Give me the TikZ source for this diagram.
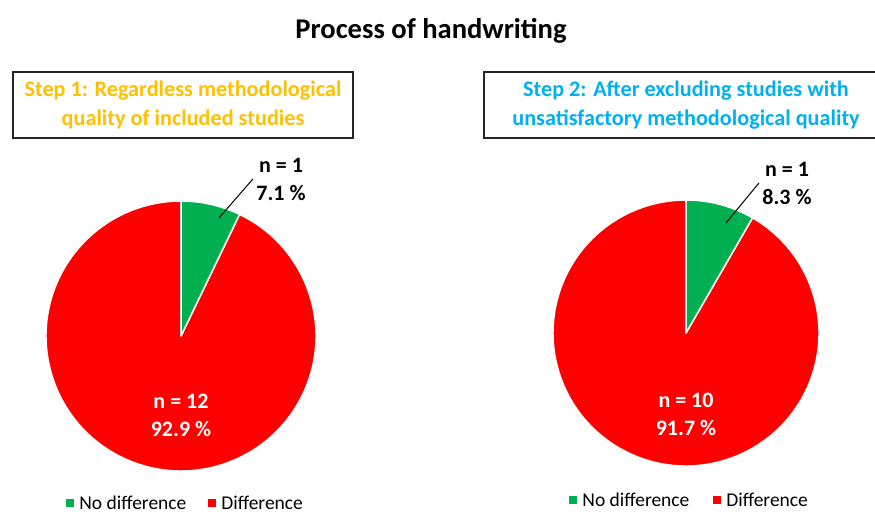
\documentclass[tikz,border=0pt]{standalone}
\usepackage{fontspec}
\setmainfont{Carlito}
\usetikzlibrary{positioning}
\definecolor{SliceRed}{RGB}{255,0,0}
\definecolor{SliceGreen}{RGB}{0,176,80}
\definecolor{StepGold}{RGB}{255,192,0}
\definecolor{StepBlue}{RGB}{0,176,240}

\begin{document}
\begin{tikzpicture}[x=1pt, y=1pt,
  every node/.style={font=\bfseries, align=center},
  title/.style={font=\fontsize{28.6}{32}\selectfont\bfseries},
  stepbox/.style={draw=black!85, line width=1.5pt, fill=white, inner sep=0pt, minimum height=66pt, font=\fontsize{22.2}{29}\selectfont\bfseries},
  slice/.style={draw=white, line width=1.5pt, line join=round},
  slicelabel/.style={font=\fontsize{22}{28}\selectfont\bfseries},
  leader/.style={draw=black, line width=1pt},
  legkey/.style={minimum size=8pt, inner sep=0pt},
  legtext/.style={font=\fontsize{19.5}{21}\selectfont, inner sep=0pt}
]
\useasboundingbox (0,0) rectangle (875,-514);
\clip (0,0) rectangle (875,-514);

\node[title] (title) at (431,-31) {Process of handwriting};

\node[stepbox, text=StepGold, minimum width=340pt] (step1) at (183,-105) {Step 1: Regardless methodological\\quality of included studies};
\node[stepbox, text=StepBlue, minimum width=404pt] (step2) at (686,-105) {Step 2: After excluding studies with\\unsatisfactory methodological quality};

% step 1 pie
\coordinate (p1) at (181,-336);
\fill[SliceRed, slice] (p1) -- ++(64.3:135) arc[start angle=64.3, end angle=-270, radius=135] -- cycle;
\fill[SliceGreen, slice] (p1) -- ++(90:135) arc[start angle=90, end angle=64.3, radius=135] -- cycle;
\node[slicelabel] (lab1) at (281,-179) {n = 1\\7.1 \%};
\coordinate (g1) at (219,-218);
\draw[leader] (lab1.west) -- (g1);
\node[slicelabel, text=white] (big1) at (181,-415) {n = 12\\92.9 \%};

% step 2 pie
\coordinate (p2) at (686,-333);
\fill[SliceRed, slice] (p2) -- ++(60:133) arc[start angle=60, end angle=-270, radius=133] -- cycle;
\fill[SliceGreen, slice] (p2) -- ++(90:133) arc[start angle=90, end angle=60, radius=133] -- cycle;
\node[slicelabel] (lab2) at (787,-183) {n = 1\\8.3 \%};
\coordinate (g2) at (726,-223);
\draw[leader] (lab2.west) -- (g2);
\node[slicelabel, text=white] (big2) at (686,-414) {n = 10\\91.7 \%};

% legends
\node[legkey, fill=SliceGreen] (k1g) at (70,-503) {};
\node[legtext, right=5pt of k1g] (t1g) {No difference};
\node[legkey, fill=SliceRed] (k1r) at (212,-503) {};
\node[legtext, right=5pt of k1r] (t1r) {Difference};
\node[legkey, fill=SliceGreen] (k2g) at (573,-500) {};
\node[legtext, right=5pt of k2g] (t2g) {No difference};
\node[legkey, fill=SliceRed] (k2r) at (717,-500) {};
\node[legtext, right=5pt of k2r] (t2r) {Difference};
\end{tikzpicture}
\end{document}
